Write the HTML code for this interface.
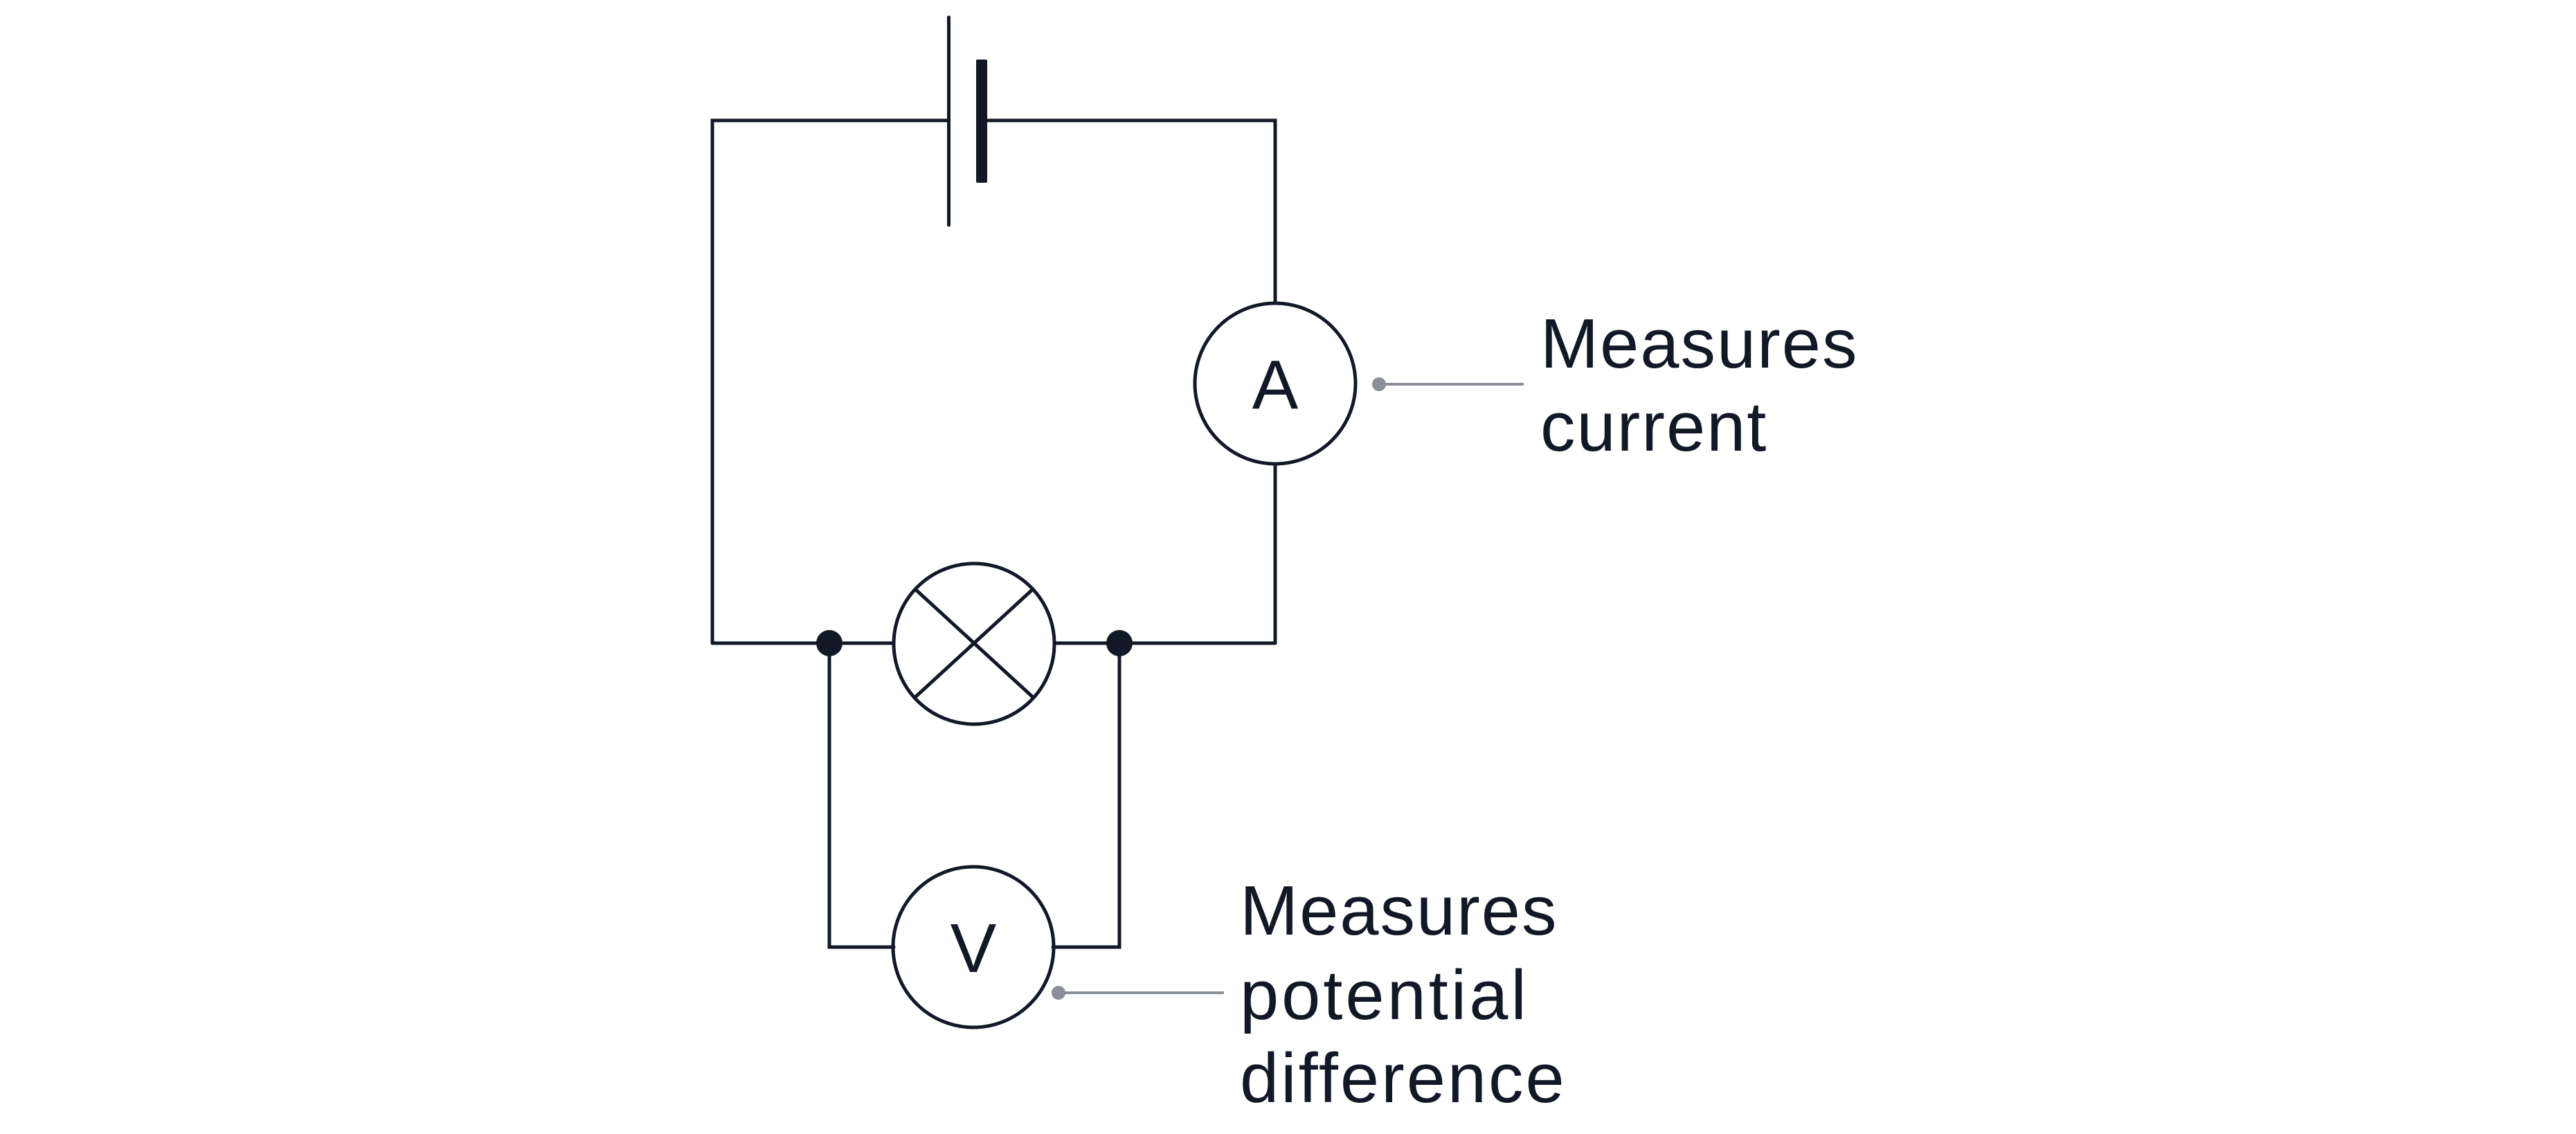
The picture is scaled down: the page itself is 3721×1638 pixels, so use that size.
<!DOCTYPE html>
<html><head><meta charset="utf-8"><style>
html,body{margin:0;padding:0;background:#fff;}
svg{display:block;}
text{font-family:"Liberation Sans",sans-serif;font-size:101px;fill:#121826;letter-spacing:2px;}
</style></head><body>
<svg width="3721" height="1638" viewBox="0 0 3721 1638" xmlns="http://www.w3.org/2000/svg">
<g stroke="#121826" stroke-width="5" fill="none" stroke-linecap="round">
<polyline points="1029,929 1029,174 1370,174"/>
<polyline points="1426,174 1842,174 1842,438"/>
<line x1="1842" y1="670" x2="1842" y2="929"/>
<line x1="1370.5" y1="25" x2="1370.5" y2="325"/>
<rect x="1410" y="86" width="16" height="178" rx="2" fill="#121826" stroke="none"/>
<circle cx="1842" cy="554" r="116" fill="#fff"/>
<line x1="1029" y1="929" x2="1291" y2="929"/>
<line x1="1523" y1="929" x2="1842" y2="929"/>
<circle cx="1407" cy="930" r="116"/>
<line x1="1322" y1="851" x2="1492" y2="1007"/>
<line x1="1322" y1="1007" x2="1492" y2="851"/>
<polyline points="1198,929 1198,1368 1291,1368"/>
<polyline points="1617,929 1617,1368 1521,1368"/>
<circle cx="1406" cy="1368" r="116"/>
</g>
<circle cx="1198" cy="929" r="19" fill="#121826"/>
<circle cx="1617" cy="929" r="19" fill="#121826"/>
<text x="1842" y="590" text-anchor="middle" style="font-size:100px;letter-spacing:0">A</text>
<text x="1406" y="1404" text-anchor="middle" style="font-size:100px;letter-spacing:0">V</text>
<g stroke="#8b8f98" stroke-width="4">
<line x1="1992" y1="555" x2="2201" y2="555"/>
<line x1="1529" y1="1434" x2="1768" y2="1434"/>
</g>
<circle cx="1992" cy="555" r="10" fill="#8b8f98"/>
<circle cx="1529" cy="1434" r="10" fill="#8b8f98"/>
<text x="2225" y="531">Measures</text>
<text x="2225" y="651">current</text>
<text x="1791" y="1350">Measures</text>
<text x="1791" y="1472" style="letter-spacing:4px">potential</text>
<text x="1791" y="1592" style="letter-spacing:3px">difference</text>
</svg>
</body></html>
